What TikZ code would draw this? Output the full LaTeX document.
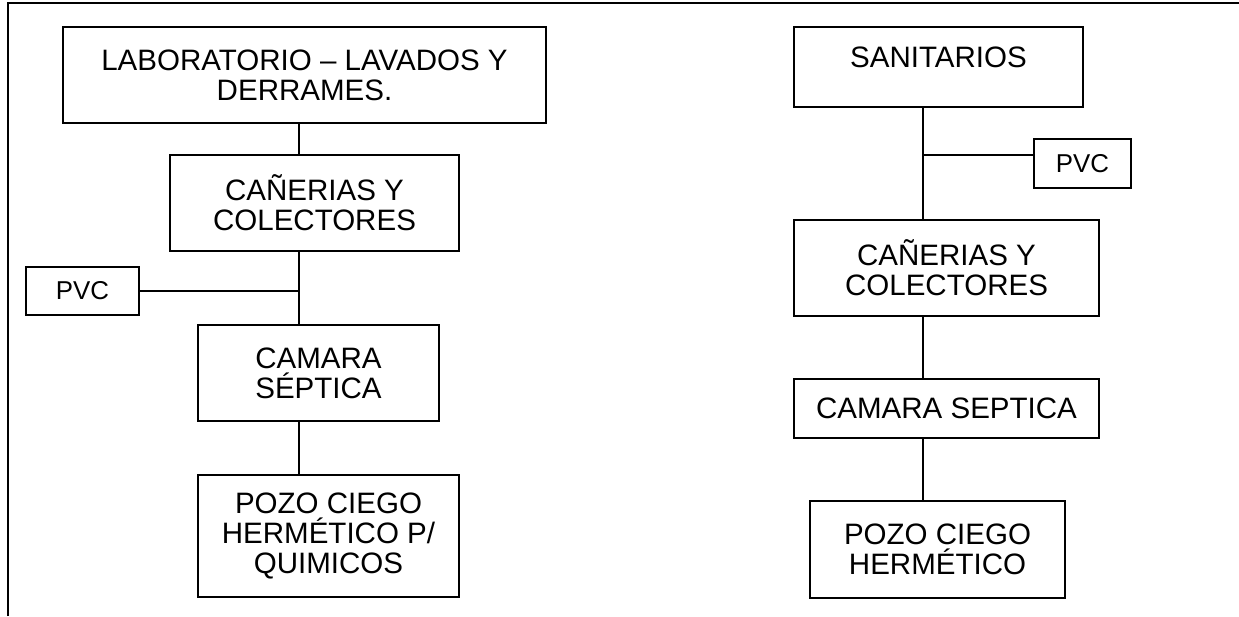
\documentclass[tikz,border=0pt]{standalone}
\usepackage{fontspec}
\setmainfont{Liberation Sans}
\begin{document}
\begin{tikzpicture}[
    box/.style={draw, line width=0.8pt, inner sep=0pt, align=center,
      font=\fontsize{16.8pt}{17.1pt}\selectfont},
    pvcbox/.style={box, font=\fontsize{14.7pt}{15pt}\selectfont},
    pipe/.style={line width=0.8pt}]
  \useasboundingbox (0,0) rectangle (24.78,-12.32);
  \draw[line width=1.1pt] (0.16,-12.32) -- (0.16,-0.06) -- (24.78,-0.06);
  % left column
  \coordinate (spineL) at (5.98,0);
  \node[box, minimum width=9.66cm, minimum height=1.92cm] (lab) at (6.09,-1.50)
    {LABORATORIO – LAVADOS Y\\DERRAMES.};
  \node[box, minimum width=5.78cm, minimum height=1.92cm] (can1) at (6.29,-4.06)
    {CAÑERIAS Y\\COLECTORES};
  \node[pvcbox, minimum width=2.26cm, minimum height=0.96cm] (pvc1) at (1.65,-5.82) {PVC};
  \node[box, minimum width=4.82cm, minimum height=1.92cm] (cam1) at (6.37,-7.46)
    {CAMARA\\SÉPTICA};
  \node[box, minimum width=5.22cm, minimum height=2.44cm] (pozo1) at (6.57,-10.72)
    {POZO CIEGO\\HERMÉTICO P/\\QUIMICOS};
  \draw[pipe] (lab.south -| spineL) -- (can1.north -| spineL);
  \draw[pipe] (can1.south -| spineL) -- (cam1.north -| spineL);
  \draw[pipe] (pvc1.east) -- (pvc1.east -| spineL);
  \draw[pipe] (cam1.south -| spineL) -- (pozo1.north -| spineL);
  % right column
  \coordinate (spineR) at (18.46,0);
  \coordinate (tapR) at (18.46,-3.10);
  \node[box, minimum width=5.78cm, minimum height=1.60cm,
        text height=0.5cm, text depth=0.48cm] (san) at (18.77,-1.34) {SANITARIOS};
  \node[pvcbox, minimum width=1.94cm, minimum height=0.98cm] (pvc2) at (21.65,-3.27) {PVC};
  \node[box, minimum width=6.10cm, minimum height=1.92cm] (can2) at (18.93,-5.36)
    {CAÑERIAS Y\\COLECTORES};
  \node[box, minimum width=6.10cm, minimum height=1.18cm] (cam2) at (18.93,-8.17)
    {CAMARA SEPTICA};
  \node[box, minimum width=5.10cm, minimum height=1.94cm] (pozo2) at (18.75,-10.99)
    {POZO CIEGO\\HERMÉTICO};
  \draw[pipe] (san.south -| spineR) -- (can2.north -| spineR);
  \draw[pipe] (tapR) -- (tapR -| pvc2.west);
  \draw[pipe] (can2.south -| spineR) -- (cam2.north -| spineR);
  \draw[pipe] (cam2.south -| spineR) -- (pozo2.north -| spineR);
\end{tikzpicture}
\end{document}
